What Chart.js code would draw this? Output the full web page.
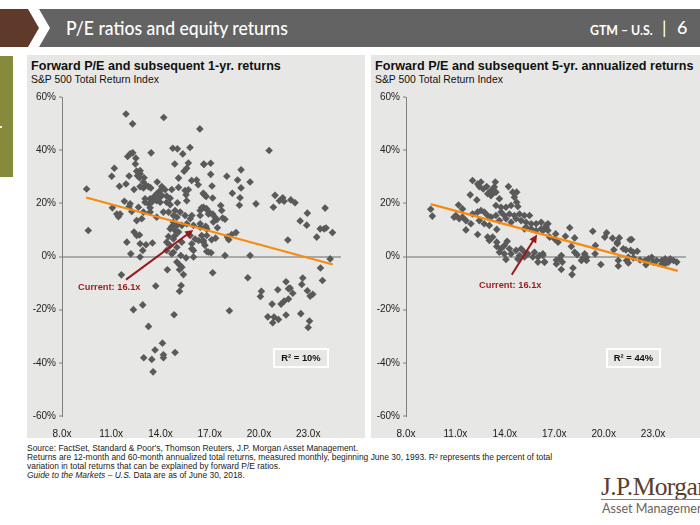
<!DOCTYPE html>
<html>
<head>
<meta charset="utf-8">
<script src="https://cdn.jsdelivr.net/npm/chart.js@4"></script>
<style>
  html, body { margin: 0; padding: 0; background: #fff; }
  #page { position: relative; width: 700px; height: 525px; overflow: hidden; font-family: "Liberation Sans", Arial, sans-serif; color: #111; }
  #page div, #page canvas { position: absolute; white-space: nowrap; }
  .panel { background: #e7e7e6; top: 55px; height: 383px; }
  .title { font-size: 12.6px; font-weight: bold; top: 59px; }
  .sub { font-size: 10.4px; top: 74px; }
  .current { color: #9b1c1c; font-size: 9.3px; font-weight: bold; }
  .r2 { top: 348px; height: 16px; line-height: 16px; border: 2px solid #fff; text-align: center; font-size: 9.4px; font-weight: bold; }
  .note { left: 27px; font-size: 8.45px; color: #222; }
  .head { font-family: Lato, sans-serif; color: #fff; transform-origin: left center; }
</style>
</head>
<body>
<div id="page">
  <div style="left:0;top:9px;width:40px;height:38px;background:#5f3a2b;clip-path:polygon(0 0,28px 0,39px 19px,28px 38px,0 38px)"></div>
  <div style="left:39px;top:9px;width:661px;height:38px;background:#636363;clip-path:polygon(0 0,661px 0,661px 38px,0 38px,11px 19px)"></div>
  <div class="head" style="left:66px;top:15px;font-size:20px;font-weight:500;transform:scaleX(0.88)">P/E ratios and equity returns</div>
  <div class="head" style="left:590px;top:21px;font-size:14px;font-weight:700;transform:scaleX(0.88)">GTM – U.S.</div>
  <div class="head" style="left:662px;top:16px;font-size:18px">|</div>
  <div class="head" style="left:677px;top:16px;font-size:18px;font-weight:500">6</div>
  <div style="left:0;top:56px;width:13px;height:121px;background:#868a3c"></div>
  <div style="left:0;top:126px;width:2px;height:2px;background:#f2f2e6"></div>

  <div class="panel" style="left:27px;width:338px"></div>
  <div class="panel" style="left:371px;width:329px"></div>
  <div class="title" style="left:31px">Forward P/E and subsequent 1-yr. returns</div>
  <div class="sub" style="left:31px">S&amp;P 500 Total Return Index</div>
  <div class="title" style="left:375px">Forward P/E and subsequent 5-yr. annualized returns</div>
  <div class="sub" style="left:375px">S&amp;P 500 Total Return Index</div>

  <canvas id="oneYr" style="left:27px;top:55px" width="338" height="383"></canvas>
  <canvas id="fiveYr" style="left:371px;top:55px" width="329" height="383"></canvas>

  <div class="current" style="left:78px;top:282px">Current: 16.1x</div>
  <div class="current" style="left:479px;top:280px">Current: 16.1x</div>
  <div class="r2" style="left:273px;width:52px">R² = 10%</div>
  <div class="r2" style="left:606px;width:51px">R² = 44%</div>

  <div class="note" style="top:443px">Source: FactSet, Standard &amp; Poor's, Thomson Reuters, J.P. Morgan Asset Management.</div>
  <div class="note" style="top:452px">Returns are 12-month and 60-month annualized total returns, measured monthly, beginning June 30, 1993. R² represents the percent of total</div>
  <div class="note" style="top:461px">variation in total returns that can be explained by forward P/E ratios.</div>
  <div class="note" style="top:470px"><i>Guide to the Markets – U.S.</i> Data are as of June 30, 2018.</div>

  <div style="left:601px;top:472px;font-family:'Liberation Serif',serif;font-size:25.5px;color:#5a3e30;letter-spacing:-0.6px">J.P.Morgan</div>
  <div style="left:601px;top:499px;width:99px;height:1px;background:#8a7d73"></div>
  <div style="left:602px;top:501px;font-size:12.6px;font-family:Lato,sans-serif;color:#6d6259">Asset Management</div>
</div>

<script>
const xTicks = [8, 11, 14, 17, 20, 23];
const yTicks = [-60, -40, -20, 0, 20, 40, 60];

// forward P/E, subsequent 1-yr return
const oneYrPoints = [
  [11.9,53.6],[14.2,52.3],[12.3,49.9],[16.4,48],[14.75,40.7],[15.03,40.5],[15.8,41],[13.43,39],[12.15,38.6],[12.31,39],
  [12,37.6],[12.5,37],[15.36,38.6],[12.47,34.8],[14.87,34.8],[15.7,35.2],[16.64,34.8],[11.19,33.2],[15.6,33.2],[15.44,32.1],
  [12.76,32.3],[12.55,32.1],[12.76,31.1],[12.6,30.4],[12.72,29.6],[11.03,30.2],[12.09,30.3],[15.1,29.5],[13,29.6],[15.9,28.6],
  [16.2,28.8],[16.3,27],[11.9,27.3],[11.5,26.4],[13.8,28],[12.96,28],[13.12,26.7],[12.76,26.3],[12.96,25.8],[13.27,26.3],
  [13.41,25.8],[12.39,25.2],[9.5,25.4],[14.08,26.3],[14.28,25.1],[13.98,24.8],[14.69,25.2],[15.1,26],[15.5,24.8],[15.7,25.1],
  [13.77,23.6],[14.08,23],[13.98,22.3],[14.38,22.7],[14.59,21.9],[13.57,22.3],[13.37,21.7],[13.06,21.7],[15.56,23.2],[16.62,23.6],
  [16.78,22.6],[15.6,21],[15.03,20.2],[11.8,20.8],[12.15,19.8],[12.09,18.8],[11.07,18.3],[12.66,18.5],[13.06,20.4],[13.27,19.8],
  [13.37,18.3],[13.47,20.4],[13.77,21],[13.98,20.4],[14.38,20.4],[14.59,19.5],[12.25,16.9],[11.54,16],[11.34,16],[11.44,15],
  [12.96,16.7],[13.37,16.7],[13.77,14.8],[14.18,16.7],[14.49,16.7],[14.89,17.3],[15.2,16.7],[14.79,15.4],[15,14.8],[15.5,15.4],
  [15.91,15.4],[15.81,14.2],[16.42,17.3],[16.62,18.5],[16.82,17.9],[16.42,15.4],[16.92,16],[12.55,13.5],[12.86,14.2],[14.79,12.9],
  [14.69,11.3],[15,11.7],[15.3,11.7],[15.6,12.3],[14.89,9.8],[14.59,10.4],[15.1,9.2],[16.01,11.7],[16.42,12.3],[16.82,10.4],
  [16.42,11],[9.6,9.8],[12.39,9.2],[12.55,7.9],[12.72,8.1],[11.95,5.4],[13.51,5.1],[12.76,4.8],[13.12,4.4],[12.92,2.3],
  [12.19,1],[14.49,7.5],[14.89,7.9],[15.3,5.4],[14.38,5.4],[14.79,6.6],[15.81,7.9],[16.11,6.6],[16.62,5.4],[16.82,7.9],
  [15.91,4.8],[16.32,6],[14.59,4.1],[15,3.5],[15.91,2.9],[14.38,2.3],[14.79,1.6],[16.01,2.3],[16.82,1.9],[14.69,1],
  [15.24,.4],[16.01,-.2],[12.76,-.2],[15.56,-.5],[20.62,39.9],[17.06,35.1],[16.65,34.6],[18.91,32.6],[17.06,30.9],[18.04,30.2],
  [18.7,28.8],[19.46,28],[17.14,26.5],[18.91,25.8],[18.38,23.8],[16.61,23.8],[16.71,23],[17.18,22],[18.85,22.1],[20.98,23],
  [21.45,22.1],[21.25,21],[21.53,20.8],[21.94,21.3],[22.2,20.2],[18.81,19.3],[17.67,19.2],[19.82,19.8],[20.88,18.5],[17.73,17.3],
  [24.03,18.2],[22.95,16.3],[16.51,18.3],[16.78,17.9],[17.02,16.3],[17.18,16],[17.79,14.5],[17.93,14],[17.32,14.8],[17.22,13],
  [17.43,13.8],[22.51,13.4],[22.91,11.8],[16.76,11.4],[17.47,10.8],[23.73,10.4],[23.97,10.4],[24.09,10.7],[24.48,9],[23.52,7.3],
  [18.6,9],[18.34,8.3],[18.08,7.3],[18.16,6.3],[16.51,7.9],[17.12,6.3],[17.36,6.9],[21.76,6.2],[16.61,6],[16.71,4.2],
  [16.92,1.7],[17.08,1.4],[17.93,.4],[19.46,.4],[24.34,-.9],[11.62,-6.9],[13.71,-11.1],[14.42,-5],[15,-2.1],[15.2,-3.4],
  [15.3,-4],[15.16,-5],[15.4,-6.8],[15.26,-10.9],[15.16,-13.1],[12.92,-18.2],[12.35,-20],[14.83,-21.9],[13.27,-26.3],[14.12,-32.6],
  [13.67,-35.2],[14.18,-37],[14.18,-38.1],[14.89,-36.1],[12.98,-38.1],[13.47,-38.7],[13.55,-43.4],[17.18,-6.1],[19.32,-8],[18.2,-20.4],
  [22.67,-8.1],[22.61,-10.5],[21.65,-9.5],[21.15,-12.5],[21.8,-12.1],[21.9,-11.9],[20.15,-13.1],[20.09,-15],[22.06,-13.8],[22.95,-12.9],
  [23.12,-14.9],[23.28,-14.2],[23.75,-4.3],[23.87,-9],[20.8,-17.9],[21.35,-17.9],[21.53,-16.8],[21.8,-16],[20.54,-22.7],[20.92,-22.8],
  [21.19,-23.7],[20.84,-24.9],[21.65,-22],[22.55,-21.5],[23.08,-24.3],[23,-26.7]
];
const oneYrTrend = [[9.47,22.2],[24.5,-3]];
const oneYrArrow = [[11.9,-8.7],[16,10]];

// forward P/E, subsequent 5-yr annualized return
const fiveYrPoints = [
  [9.5,17.8],[9.6,15.2],[11.19,19.4],[11.43,17.9],[11.03,15.4],[11.23,14.2],[11.43,14.8],[11.64,13.5],[10.92,14.8],[12.04,28.6],
  [12.35,27.3],[12.55,28],[12.45,26.3],[12.69,25.4],[12.9,26.3],[13.16,24.8],[12.96,23.6],[13.26,23.6],[13.42,28],[13.36,26.1],
  [13.46,24.2],[13.16,22.9],[13.67,21.7],[11.9,23.2],[12.3,21.3],[14.22,26.3],[14.48,24.2],[14.72,24.2],[14.58,22.3],[14.72,20.4],
  [14.79,18.8],[13.46,19.2],[13.77,18.5],[14.07,18.5],[14.38,19.2],[12.04,16],[12.35,16.7],[12.55,17.3],[12.75,16.7],[12.96,15.4],
  [13.16,14.8],[13.46,15.4],[13.77,16.7],[13.97,15.4],[14.28,16],[14.58,15.4],[14.89,16],[15.19,15.4],[15.5,15.4],[14.99,13.5],
  [15.29,12.9],[15.6,12.3],[15.9,12.3],[16.21,12.9],[16.51,11.7],[14.68,14.2],[14.38,12.9],[14.07,14.2],[13.67,13.5],[11.94,12.3],
  [11.64,10],[12.35,8.3],[12.45,13.5],[12.75,12.3],[13.06,11.7],[13.51,10.2],[12.96,7.3],[13.06,6],[13.26,7.3],[13.51,5.4],
  [14.14,5.7],[13.51,3.8],[13.77,2.9],[13.97,4.1],[14.28,2.9],[13.67,1.6],[13.97,1],[14.38,1],[14.68,2.3],[14.99,2.9],
  [15.19,1.6],[14.89,.4],[15.4,1],[15.8,1.6],[16.01,-.2],[15.7,-.2],[15.19,-.2],[14.07,-1.1],[14.79,-.9],[16.01,-2.1],
  [16.41,-2.1],[16.31,1],[15.29,11],[15.6,10.4],[15.19,10.4],[15.9,9.8],[16.31,9.8],[16.51,11],[16.62,12.3],[16.41,10.4],
  [16.21,10.4],[16.62,9.8],[17.94,10.8],[17.09,8.5],[16.72,7.3],[17.02,6.6],[17.23,5.4],[17.68,7.6],[18.24,7],[19.34,9.5],
  [20.18,8.9],[20.07,7.3],[20.54,6.9],[20.95,7],[20.83,5.4],[20.83,4.8],[21.6,6.3],[21.7,6.4],[18.04,3.8],[18.24,1.6],
  [18.39,.7],[19.5,4.1],[19.48,1],[20.62,2.5],[21.19,2.9],[21.35,2.5],[22.04,2],[21.8,1.6],[21.64,2.3],[16.31,.4],
  [16.11,.4],[17.43,.4],[17.33,-.8],[16.41,-2.1],[17.13,-1.3],[17.13,-2.8],[17.49,-2.1],[17.43,-4.9],[18.14,-4.3],[18.08,-6.8],
  [18.65,-1.5],[18.85,1],[18.96,-.3],[18.75,-.5],[18.96,-1.5],[19.83,-3],[20.89,-1.5],[20.89,-3.6],[21.5,-.3],[21.39,-1.5],
  [21.5,-2.4],[21.8,-.5],[22.57,-3.1],[22.72,-.9],[22.92,-.3],[23.02,-2.1],[23.22,-1.5],[23.53,-1.5],[23.73,-.9],[23.94,-2.1],
  [23.53,-2.8],[23.73,-2.8],[24.24,-1.5],[24.44,-2.1],[24.04,-.9],[22.21,-1.3],[22.51,-1.5]
];
const fiveYrTrend = [[9.5,19.7],[24.5,-5.4]];
const fiveYrArrow = [[14.42,-6.9],[15.96,8.3]];

const toXY = p => ({x: p[0], y: p[1]});

// red "current" arrow, ends given in data values
const arrowPlugin = {
  id: 'arrow',
  afterDatasetsDraw(chart, args, opts) {
    const c = chart.ctx, sx = chart.scales.x, sy = chart.scales.y;
    const x0 = sx.getPixelForValue(opts.from[0]), y0 = sy.getPixelForValue(opts.from[1]);
    const x1 = sx.getPixelForValue(opts.to[0]), y1 = sy.getPixelForValue(opts.to[1]);
    const a = Math.atan2(y1 - y0, x1 - x0);
    c.save();
    c.strokeStyle = c.fillStyle = '#96191c';
    c.lineWidth = 2;
    c.beginPath();
    c.moveTo(x0, y0);
    c.lineTo(x1 - 6 * Math.cos(a), y1 - 6 * Math.sin(a));
    c.stroke();
    c.beginPath();
    c.moveTo(x1, y1);
    c.lineTo(x1 - 9 * Math.cos(a - 0.45), y1 - 9 * Math.sin(a - 0.45));
    c.lineTo(x1 - 9 * Math.cos(a + 0.45), y1 - 9 * Math.sin(a + 0.45));
    c.closePath();
    c.fill();
    c.restore();
  }
};

function makeScatter(id, points, trend, arrow, rightPad) {
  new Chart(id, {
    type: 'scatter',
    data: {
      datasets: [
        {
          data: trend.map(toXY),
          showLine: true,
          borderColor: '#f68b0f',
          borderWidth: 2.2,
          pointRadius: 0,
          order: 0
        },
        {
          data: points.map(toXY),
          pointStyle: 'rectRot',
          pointRadius: 3.8,
          pointBackgroundColor: '#5a5a5a',
          pointBorderWidth: 0,
          order: 1
        }
      ]
    },
    plugins: [arrowPlugin],
    options: {
      responsive: false,
      animation: false,
      layout: {padding: {top: 42, right: rightPad, bottom: 0, left: 0}},
      plugins: {legend: {display: false}, tooltip: {enabled: false}, arrow: {from: arrow[0], to: arrow[1]}},
      scales: {
        x: {
          min: 8,
          max: 25,
          afterBuildTicks: s => { s.ticks = xTicks.map(v => ({value: v})); },
          afterFit: s => { s.height = 22; },
          border: {display: false},
          grid: {display: false},
          ticks: {
            autoSkip: false,
            maxRotation: 0,
            padding: 4,
            color: '#222',
            font: {family: '"Liberation Sans"', size: 10},
            callback: v => v.toFixed(1) + 'x'
          }
        },
        y: {
          min: -60,
          max: 60,
          afterBuildTicks: s => { s.ticks = yTicks.map(v => ({value: v})); },
          afterFit: s => { s.width = 35; },
          border: {color: '#7f7f7f', width: 1},
          grid: {
            color: c => c.tick && c.tick.value === 0 ? '#a9a9a9' : 'transparent',
            lineWidth: 2,
            tickColor: '#7f7f7f',
            tickWidth: 1,
            tickLength: 3
          },
          ticks: {
            padding: 3,
            color: '#222',
            font: {family: '"Liberation Sans"', size: 10},
            callback: v => v + '%'
          }
        }
      }
    }
  });
}

makeScatter('oneYr', oneYrPoints, oneYrTrend, oneYrArrow, 24);
makeScatter('fiveYr', fiveYrPoints, fiveYrTrend, fiveYrArrow, 14);
</script>
</body>
</html>
